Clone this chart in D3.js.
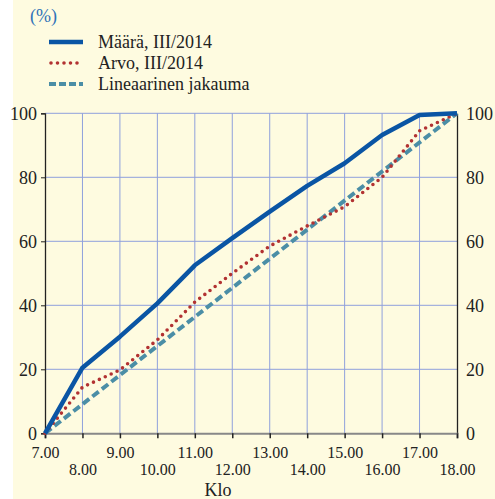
<!DOCTYPE html>
<html><head><meta charset="utf-8">
<script src="https://cdn.jsdelivr.net/npm/d3@7"></script>
<style>body{margin:0;background:#fff}svg{display:block}svg text{font-family:"Liberation Serif","DejaVu Serif",serif !important}</style>
</head><body><svg id="c" width="495" height="499"></svg>
<script>
const hours = [7,8,9,10,11,12,13,14,15,16,17,18];
const hourLabels = ["7.00","8.00","9.00","10.00","11.00","12.00","13.00","14.00","15.00","16.00","17.00","18.00"];
const maara = [0,20.5,30.2,40.6,52.5,61,69.3,77.3,84.4,93.2,99.5,100];
const arvo = [0,14.4,19.8,29.2,41,50,58.5,64.8,70.8,80,94.5,100];
const lineaarinen = [0,100];
const linearHours = [7,18];
const yTicks = [0,20,40,60,80,100];
const seriesNames = ["Määrä, III/2014","Arvo, III/2014","Lineaarinen jakauma"];

const FONT = "Liberation Serif, DejaVu Serif, serif";
const svg = d3.select("#c");
svg.append("rect").attr("x",13).attr("y",0).attr("width",482).attr("height",499).attr("fill","#fefbe0");

const x = d3.scaleLinear().domain([7,18]).range([45,457]);
const y = d3.scaleLinear().domain([0,100]).range([433.3,113.3]);
const grid = "#8fa0dc";

svg.append("g").selectAll("line").data(yTicks.filter(d=>d>0)).join("line")
  .attr("x1",x(7)).attr("x2",x(18)).attr("y1",d=>y(d)).attr("y2",d=>y(d))
  .attr("stroke",grid).attr("stroke-width",1);
svg.append("g").selectAll("line").data(hours.slice(1,-1)).join("line")
  .attr("x1",d=>x(d)).attr("x2",d=>x(d)).attr("y1",y(0)).attr("y2",y(100))
  .attr("stroke",grid).attr("stroke-width",1);

const yl = d3.axisLeft(y).tickValues(yTicks).tickSize(4).tickFormat(d3.format("d"));
const yr = d3.axisRight(y).tickValues(yTicks).tickSize(0).tickFormat(d3.format("d"));
const gl = svg.append("g").attr("transform",`translate(${x(7)},0)`).call(yl).attr("font-family",FONT);
const gr = svg.append("g").attr("transform",`translate(${x(18)},0)`).call(yr).attr("font-family",FONT);
[gl,gr].forEach(g=>{
  g.select(".domain").attr("stroke","#222").attr("stroke-width",1.3);
  g.selectAll(".tick line").attr("stroke","#222");
  g.selectAll("text").attr("font-size",18).attr("fill","#222");
});
gl.selectAll("text").attr("x",-8);
gr.selectAll("text").attr("x",9);

const xa = d3.axisBottom(x).tickValues(hours).tickSize(5).tickFormat((d,i)=>hourLabels[i]);
const gx = svg.append("g").attr("transform",`translate(0,${y(0)})`).call(xa).attr("font-family",FONT);
gx.select(".domain").attr("stroke","#888").attr("stroke-width",2);
gx.selectAll(".tick line").attr("stroke","#222").attr("stroke-width",1.5);
gx.selectAll("text").attr("font-size",16).attr("fill","#222")
  .attr("y",(d,i)=> i%2===0 ? 13 : 30);
svg.append("text").attr("x",218).attr("y",496).attr("text-anchor","middle").attr("font-size",18).attr("font-family",FONT).attr("fill","#222").text("Klo");

const line = d3.line().x(d=>x(d[0])).y(d=>y(d[1]));
svg.append("path").datum(linearHours.map((h,i)=>[h,lineaarinen[i]])).attr("d",line)
  .attr("fill","none").attr("stroke","#4b8ea6").attr("stroke-width",4).attr("stroke-dasharray","8,4");
svg.append("path").datum(hours.map((h,i)=>[h,arvo[i]])).attr("d",line)
  .attr("fill","none").attr("stroke","#b23232").attr("stroke-width",3.6).attr("stroke-linecap","round").attr("stroke-dasharray","0,6.5");
svg.append("path").datum(hours.map((h,i)=>[h,maara[i]])).attr("d",line)
  .attr("fill","none").attr("stroke","#0a55a4").attr("stroke-width",4.5).attr("stroke-linejoin","round");

svg.append("text").attr("x",30).attr("y",22).attr("font-size",18).attr("font-family",FONT).attr("fill","#2f72b8").text("(%)");
const lg = svg.append("g").attr("font-family",FONT);
const ly = [42,63,84];
lg.append("line").attr("x1",49).attr("x2",83).attr("y1",ly[0]).attr("y2",ly[0]).attr("stroke","#0a55a4").attr("stroke-width",4.5);
lg.append("line").attr("x1",51).attr("x2",83).attr("y1",ly[1]).attr("y2",ly[1]).attr("stroke","#b23232").attr("stroke-width",3.6).attr("stroke-linecap","round").attr("stroke-dasharray","0,6.5");
lg.append("line").attr("x1",49).attr("x2",83).attr("y1",ly[2]).attr("y2",ly[2]).attr("stroke","#4b8ea6").attr("stroke-width",4).attr("stroke-dasharray","7,3");
lg.selectAll("text.l").data(seriesNames).join("text").attr("class","l")
  .attr("x",98).attr("y",(d,i)=>ly[i]+6).attr("font-size",18).attr("fill","#222").text(d=>d);
</script></body></html>
